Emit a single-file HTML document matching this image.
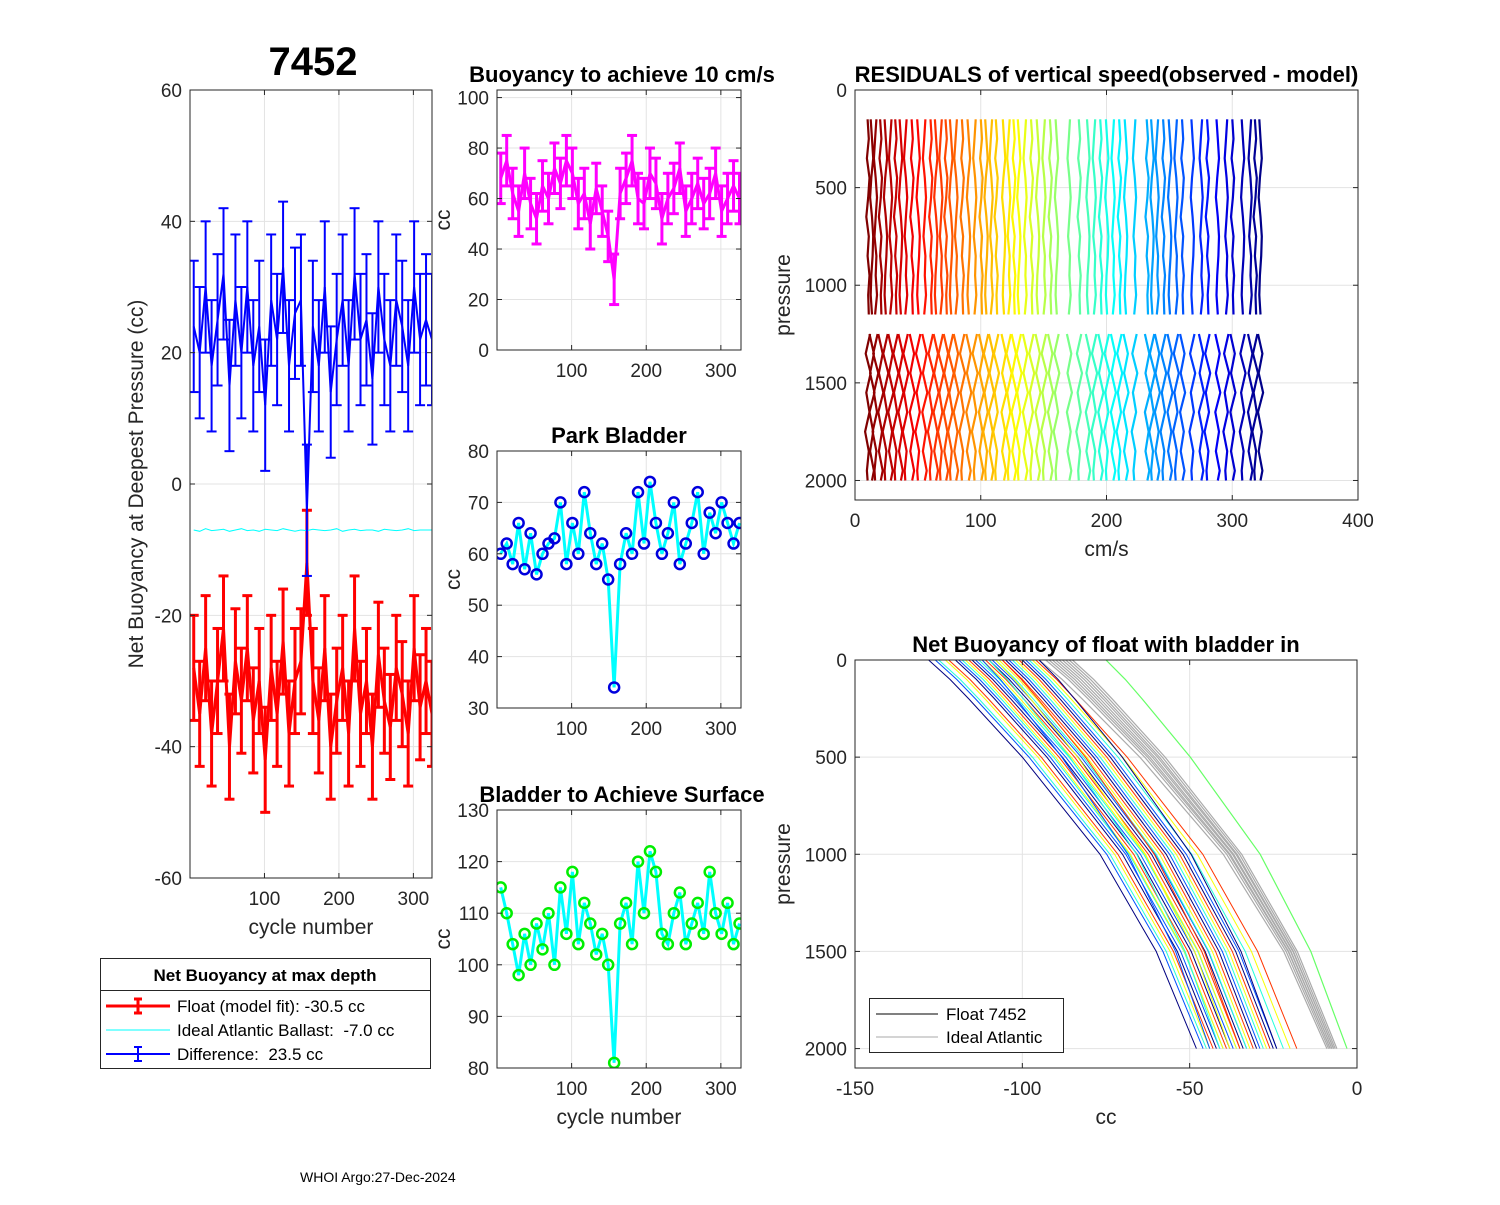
<!DOCTYPE html>
<html><head><meta charset="utf-8">
<style>
body{margin:0;background:#fff;}
svg{font-family:"Liberation Sans",Arial,sans-serif;}
text{white-space:pre;}
</style></head>
<body>
<svg id="fig" width="1500" height="1200" viewBox="0 0 1500 1200" xmlns="http://www.w3.org/2000/svg" xml:space="preserve">
<rect width="1500" height="1200" fill="#fff"/>
</svg>
<script>
// ---------- DATA ----------
const cycles = [5,13,21,29,37,45,53,61,69,77,85,93,101,109,117,125,133,141,149,157,165,173,181,189,197,205,213,221,229,237,245,253,261,269,277,285,293,301,309,317,325];
const floatFit = [-28,-35,-25,-38,-30,-22,-40,-27,-33,-25,-36,-30,-42,-28,-35,-24,-38,-30,-27,-12,-30,-36,-25,-40,-33,-28,-38,-22,-35,-30,-40,-26,-33,-37,-28,-32,-38,-25,-34,-30,-35];
const floatErr = 8;
const diffVals = [24,20,30,18,25,32,15,28,20,30,18,24,12,28,22,33,18,26,28,-4,24,18,30,14,22,28,18,32,22,25,16,30,22,18,28,24,18,30,22,25,22];
const diffErr = 10;
const idealBallast = [-7,-7.2,-6.8,-7.1,-7,-6.9,-7.2,-7,-6.8,-7.1,-7,-7.2,-6.9,-7,-7.1,-6.8,-7,-7.2,-7,-7.1,-6.9,-7,-7.1,-7,-6.8,-7.2,-7,-6.9,-7.1,-7,-7,-7.2,-6.9,-7,-7.1,-7,-6.8,-7.1,-7,-7,-7];
const buoy10 = [68,75,62,55,70,58,52,65,60,72,66,75,70,58,62,50,64,55,45,28,62,68,75,60,58,70,66,52,60,64,72,55,60,66,58,62,70,55,60,65,60];
const parkBladder = [60,62,58,66,57,64,56,60,62,63,70,58,66,60,72,64,58,62,55,34,58,64,60,72,62,74,66,60,64,70,58,62,66,72,60,68,64,70,66,62,66];
const surfBladder = [115,110,104,98,106,100,108,103,110,100,115,106,118,104,112,108,102,106,100,81,108,112,104,120,110,122,118,106,104,110,114,104,108,112,106,118,110,106,112,104,108];
// residual panel
const resCycles = [10,13,16,20,24,28,32,36,40,45,50,55,60,64,68,72,76,80,85,90,95,100,104,108,112,118,122,126,130,135,140,145,150,155,160,170,178,185,190,195,200,205,210,215,222,232,236,240,245,250,255,260,268,275,280,288,295,300,308,314,318,322];
const resPresTop = [150,250,350,450,550,650,750,850,950,1050,1150];
const resPresBot = [1250,1350,1450,1550,1650,1750,1850,1950,2000];
const resPatA = [0,1,-0.5,1.5,0.5,-1,1,0,1.5,0.5,1];
const resPatB = [-0.5,0.5,1.5,0,-1,0.5,1.5,1,0,-0.5,0.5];
const resPatC = [1,0,-1,0.5,1.5,0.5,-0.5,1,0.5,1.5,0];
const resPatBotA = [2,-1.5,2.5,-1,1.5,-2,1,-0.5,0];
const resPatBotB = [-1.5,2,-1,2.5,-1.5,1.5,-1,2,0.5];
// net buoyancy profile panel
const nbPres = [0,100,200,500,1000,1500,2000];
const nbShape = [0,0.08,0.15,0.35,0.64,0.85,1];
const nbStart = [-128,-126,-125,-123,-122,-120,-119,-118,-117,-116,-115,-114,-113,-112,-111,-110,-109,-108,-107,-106,-105,-104,-103,-102,-101,-100,-99,-98,-97,-96,-95,-112,-110,-108,-106];
const nbEnd = [-48,-46,-45,-44,-43,-42,-41,-40,-40,-39,-38,-37,-36,-36,-35,-34,-33,-33,-32,-31,-30,-29,-28,-27,-26,-25,-24,-22,-20,-18,-24,-44,-41,-38,-35];
const idealStart = [-95,-93,-92,-91,-90,-89,-88,-87,-86,-85,-75];
const idealEnd = [-9,-8.5,-8,-8,-7.5,-7.5,-7,-7,-6.5,-6,-3];

// ---------- HELPERS ----------
const NS="http://www.w3.org/2000/svg";
const svg=document.getElementById('fig');
function el(tag,attrs,parent){const e=document.createElementNS(NS,tag);for(const k in attrs)e.setAttribute(k,attrs[k]);(parent||svg).appendChild(e);return e;}
function txt(s,x,y,attrs,parent){const t=el('text',Object.assign({x:x,y:y,'font-size':19,fill:'#262626'},attrs||{}),parent);t.textContent=s;return t;}
function jet(t){t=Math.max(0,Math.min(1,t));
  const r=Math.max(0,Math.min(1,1.5-Math.abs(4*t-3))),g=Math.max(0,Math.min(1,1.5-Math.abs(4*t-2))),b=Math.max(0,Math.min(1,1.5-Math.abs(4*t-1)));
  return `rgb(${Math.round(r*255)},${Math.round(g*255)},${Math.round(b*255)})`;}
function axes(o){
  const g=el('g',{});  
  const sx=v=>o.x0+(v-o.xmin)/(o.xmax-o.xmin)*(o.x1-o.x0);
  const sy=o.rev? (v=>o.y0+(v-o.ymin)/(o.ymax-o.ymin)*(o.y1-o.y0)) : (v=>o.y1-(v-o.ymin)/(o.ymax-o.ymin)*(o.y1-o.y0));
  el('rect',{x:o.x0,y:o.y0,width:o.x1-o.x0,height:o.y1-o.y0,fill:'#fff'},g);
  const grid=el('g',{stroke:'#e3e3e3','stroke-width':1},g);
  o.xt.forEach(v=>{el('line',{x1:sx(v),x2:sx(v),y1:o.y0,y2:o.y1},grid);});
  o.yt.forEach(v=>{el('line',{x1:o.x0,x2:o.x1,y1:sy(v),y2:sy(v)},grid);});
  const plot=el('g',{},g);
  const clipId='c'+o.name; const cp=el('clipPath',{id:clipId},g); el('rect',{x:o.x0,y:o.y0,width:o.x1-o.x0,height:o.y1-o.y0},cp);
  plot.setAttribute('clip-path','url(#'+clipId+')');
  return {g,sx,sy,plot,o};
}
function finishAxes(A){
  const o=A.o,g=A.g;
  const xa=el('g',{},g);  
  const ya=el('g',{},g);  
  o.xt.forEach((v,i)=>{const x=A.sx(v); el('line',{x1:x,x2:x,y1:o.y1,y2:o.y1-5,stroke:'#262626'},xa); el('line',{x1:x,x2:x,y1:o.y0,y2:o.y0+5,stroke:'#262626'},xa);
    if(o.xl) txt(o.xl[i],x,o.y1+27,{'text-anchor':'middle'},xa);});
  o.yt.forEach((v,i)=>{const y=A.sy(v); el('line',{x1:o.x0,x2:o.x0+5,y1:y,y2:y,stroke:'#262626'},ya); el('line',{x1:o.x1,x2:o.x1-5,y1:y,y2:y,stroke:'#262626'},ya);
    txt(o.yl[i],o.x0-8,y+7,{'text-anchor':'end'},ya);});
  el('rect',{x:o.x0,y:o.y0,width:o.x1-o.x0,height:o.y1-o.y0,fill:'none',stroke:'#262626','stroke-width':1},g);
  if(o.title){const t=txt(o.title,(o.x0+o.x1)/2+(o.tdx||0),o.y0-8,{'text-anchor':'middle','font-weight':'bold','font-size':o.tsize||22,fill:'#000'},g);}
  if(o.xlabel){const t=txt(o.xlabel,(o.x0+o.x1)/2,o.y1+56,{'text-anchor':'middle','font-size':21},g);}
  if(o.ylabel){const cx=o.ylx, cy=(o.y0+o.y1)/2; const t=txt(o.ylabel,cx,cy,{'text-anchor':'middle','font-size':21,transform:`rotate(-90 ${cx} ${cy})`},g);}
}
function polyline(A,xs,ys,attrs,name){const pts=xs.map((x,i)=>A.sx(x).toFixed(1)+','+A.sy(ys[i]).toFixed(1)).join(' ');
  const p=el('polyline',Object.assign({points:pts,fill:'none'},attrs),A.plot);   return p;}
function errbars(A,xs,ys,err,color,w,name){
  const g=el('g',{stroke:color,'stroke-width':w,fill:'none'},A.plot);  
  xs.forEach((x,i)=>{const X=A.sx(x),lo=A.sy(ys[i]-err),hi=A.sy(ys[i]+err);
    const l=el('line',{x1:X,x2:X,y1:lo,y2:hi},g);  
    el('line',{x1:X-5,x2:X+5,y1:lo,y2:lo},g); el('line',{x1:X-5,x2:X+5,y1:hi,y2:hi},g);});
  polyline(A,xs,ys,{stroke:color,'stroke-width':w},name+'-line');
}
function circles(A,xs,ys,color,name){
  const g=el('g',{stroke:color,'stroke-width':2.5,fill:'none'},A.plot);  
  xs.forEach((x,i)=>{const c=el('circle',{cx:A.sx(x),cy:A.sy(ys[i]),r:5},g);  });
}

// ---------- LEFT PANEL ----------
const L=axes({name:'net-buoyancy-panel',x0:190,x1:432,y0:90,y1:878,xmin:0,xmax:325,ymin:-60,ymax:60,
  xt:[100,200,300],xl:['100','200','300'],yt:[-60,-40,-20,0,20,40,60],yl:['-60','-40','-20','0','20','40','60'],
  xlabel:'cycle number',ylabel:'Net Buoyancy at Deepest Pressure (cc)',ylx:143});
errbars(L,cycles,floatFit,floatErr,'#ff0000',3,'float-model-fit-series');
polyline(L,cycles,idealBallast,{stroke:'#00ffff','stroke-width':1},'ideal-ballast-line');
errbars(L,cycles,diffVals,diffErr,'#0000ff',2,'difference-series');
finishAxes(L);
const big=txt('7452',313,75,{'text-anchor':'middle','font-weight':'bold','font-size':40,fill:'#000'});
 

// legend left
const lg=el('g',{});  
el('rect',{x:100.5,y:958.5,width:330,height:110,fill:'#fff',stroke:'#262626'},lg);
el('line',{x1:100,x2:431,y1:990.5,y2:990.5,stroke:'#262626'},lg);
txt('Net Buoyancy at max depth',265,981,{'text-anchor':'middle','font-weight':'bold','font-size':17,fill:'#000'},lg);
[[1006,'#ff0000',3,'Float (model fit): -30.5 cc',true],[1030,'#00ffff',1,'Ideal Atlantic Ballast:  -7.0 cc',false],[1054,'#0000ff',2,'Difference:  23.5 cc',true]].forEach((e,i)=>{
  const eg=el('g',{},lg);  
  el('line',{x1:106,x2:170,y1:e[0],y2:e[0],stroke:e[1],'stroke-width':e[2]},eg);
  if(e[4]){el('line',{x1:138,x2:138,y1:e[0]-7,y2:e[0]+7,stroke:e[1],'stroke-width':e[2]},eg);
    el('line',{x1:134,x2:142,y1:e[0]-7,y2:e[0]-7,stroke:e[1],'stroke-width':e[2]},eg);
    el('line',{x1:134,x2:142,y1:e[0]+7,y2:e[0]+7,stroke:e[1],'stroke-width':e[2]},eg);}
  txt(e[3],177,e[0]+6,{'font-size':17,fill:'#000'},eg);
});

// ---------- MIDDLE PANELS ----------
const M1=axes({name:'buoyancy-10cms-panel',x0:497,x1:741,y0:90,y1:350,xmin:0,xmax:327,ymin:0,ymax:103,
  xt:[100,200,300],xl:['100','200','300'],yt:[0,20,40,60,80,100],yl:['0','20','40','60','80','100'],
  title:'Buoyancy to achieve 10 cm/s',tdx:3,ylabel:'cc',ylx:450});
errbars(M1,cycles,buoy10,10,'#ff00ff',3,'buoyancy-10cms-series');
finishAxes(M1);

const M2=axes({name:'park-bladder-panel',x0:497,x1:741,y0:451,y1:708,xmin:0,xmax:327,ymin:30,ymax:80,
  xt:[100,200,300],xl:['100','200','300'],yt:[30,40,50,60,70,80],yl:['30','40','50','60','70','80'],
  title:'Park Bladder',ylabel:'cc',ylx:460});
polyline(M2,cycles,parkBladder,{stroke:'#00ffff','stroke-width':3},'park-bladder-line');
circles(M2,cycles,parkBladder,'#0000dd','park-bladder-markers');
finishAxes(M2);

const M3=axes({name:'surface-bladder-panel',x0:497,x1:741,y0:810,y1:1068,xmin:0,xmax:327,ymin:80,ymax:130,
  xt:[100,200,300],xl:['100','200','300'],yt:[80,90,100,110,120,130],yl:['80','90','100','110','120','130'],
  title:'Bladder to Achieve Surface',tdx:3,xlabel:'cycle number',ylabel:'cc',ylx:450});
polyline(M3,cycles,surfBladder,{stroke:'#00ffff','stroke-width':3},'surface-bladder-line');
circles(M3,cycles,surfBladder,'#00ee00','surface-bladder-markers');
finishAxes(M3);

// ---------- RIGHT TOP: residuals ----------
const R1=axes({name:'residuals-panel',x0:855,x1:1358,y0:90,y1:500,xmin:0,xmax:400,ymin:0,ymax:2100,rev:true,
  xt:[0,100,200,300,400],xl:['0','100','200','300','400'],yt:[0,500,1000,1500,2000],yl:['0','500','1000','1500','2000'],
  title:'RESIDUALS of vertical speed(observed - model)',ylabel:'pressure',ylx:790,xlabel:'cm/s'});
const topPats=[resPatA,resPatB,resPatC], botPats=[resPatBotA,resPatBotB];
resCycles.forEach((c,i)=>{
  const col=jet(1-(c-10)/315);
  const pt=topPats[i%3], pb=botPats[i%2];
  polyline(R1,pt.map(v=>c+v),resPresTop,{stroke:col,'stroke-width':2.2},'residual-profile-top');
  polyline(R1,pb.map(v=>c+v),resPresBot,{stroke:col,'stroke-width':2.2},'residual-profile-bottom');
});
finishAxes(R1);

// ---------- RIGHT BOTTOM: net buoyancy profiles ----------
const R2=axes({name:'net-buoyancy-profile-panel',x0:855,x1:1357,y0:660,y1:1068,xmin:-150,xmax:0,ymin:0,ymax:2100,rev:true,
  xt:[-150,-100,-50,0],xl:['-150','-100','-50','0'],yt:[0,500,1000,1500,2000],yl:['0','500','1000','1500','2000'],
  title:'Net Buoyancy of float with bladder in',xlabel:'cc',ylabel:'pressure',ylx:790});
idealStart.forEach((s,i)=>{
  const col=i===idealStart.length-1?'#66ff66':'#aaaaaa';
  polyline(R2,nbShape.map(f=>s+(idealEnd[i]-s)*f),nbPres,{stroke:col,'stroke-width':1.2},'ideal-profile');
});
nbStart.forEach((s,i)=>{
  const col=jet((i*7%nbStart.length)/(nbStart.length-1));
  polyline(R2,nbShape.map(f=>s+(nbEnd[i]-s)*f),nbPres,{stroke:col,'stroke-width':1},'float-profile');
});
finishAxes(R2);
const lg2=el('g',{});  
el('rect',{x:869.5,y:998.5,width:194,height:54,fill:'#fff',stroke:'#262626'},lg2);
const e1=el('g',{},lg2);  
el('line',{x1:876,x2:938,y1:1014,y2:1014,stroke:'#000'},e1); txt('Float 7452',946,1020,{'font-size':17,fill:'#000'},e1);
const e2=el('g',{},lg2);  
el('line',{x1:876,x2:938,y1:1037,y2:1037,stroke:'#aaaaaa'},e2); txt('Ideal Atlantic',946,1043,{'font-size':17,fill:'#000'},e2);

const ft=txt('WHOI Argo:27-Dec-2024',300,1182,{'font-size':14,fill:'#000'});
 
</script>
</body></html>
